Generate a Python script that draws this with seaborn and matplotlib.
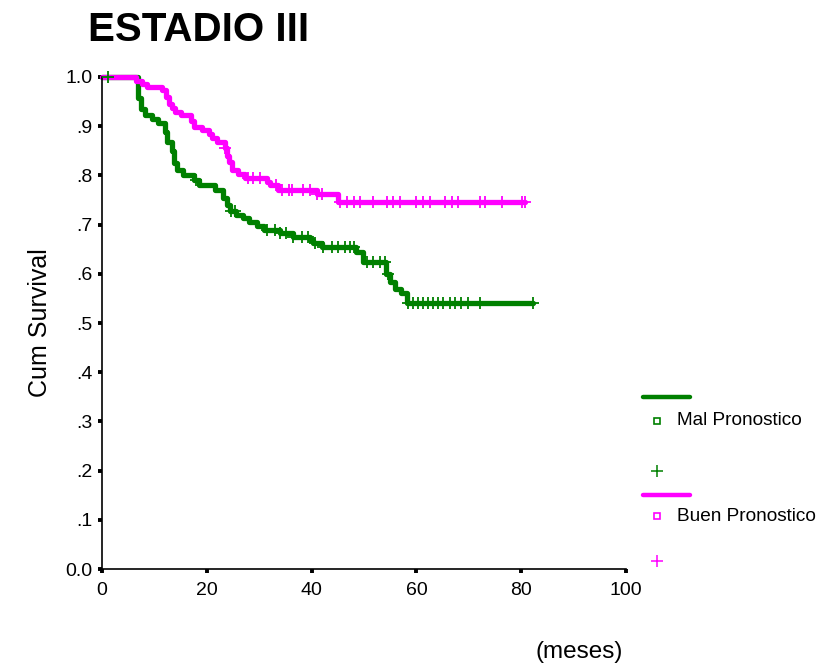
import numpy as np
import pandas as pd
import matplotlib
matplotlib.use("Agg")
import matplotlib.pyplot as plt
from matplotlib.lines import Line2D
import seaborn as sns

# Kaplan-Meier step data (time in months, cumulative survival)
mal_t = [0, 6.9, 7.5, 8.2, 9.5, 10.7, 12.0, 12.5, 13.3, 13.8, 14.3, 15.5, 17.5,
         18.5, 21.5, 23.0, 23.8, 24.5, 25.5, 27.0, 28.0, 29.5, 31.0, 34.0, 36.5,
         39.7, 40.3, 42.0, 48.5, 49.8, 54.2, 55.0, 56.0, 57.0, 58.2, 82.3]
mal_s = [1.0, 0.957, 0.935, 0.923, 0.915, 0.907, 0.888, 0.868, 0.85, 0.825, 0.81,
         0.80, 0.79, 0.78, 0.77, 0.755, 0.74, 0.728, 0.72, 0.713, 0.705, 0.697,
         0.69, 0.683, 0.675, 0.668, 0.663, 0.655, 0.645, 0.625, 0.60, 0.583,
         0.57, 0.56, 0.541, 0.541]

buen_t = [0, 6.5, 7.6, 8.5, 11.5, 12.2, 12.8, 13.4, 14.0, 15.0, 17.0, 17.6, 19.0,
          20.5, 21.0, 22.0, 23.5, 23.8, 24.2, 24.8, 26.0, 27.3, 31.5, 32.0, 33.5,
          41.0, 45.0, 80.8]
buen_s = [1.0, 0.992, 0.985, 0.98, 0.973, 0.96, 0.945, 0.937, 0.929, 0.923, 0.91,
          0.898, 0.892, 0.884, 0.876, 0.868, 0.855, 0.84, 0.827, 0.811, 0.803,
          0.795, 0.787, 0.78, 0.77, 0.762, 0.746, 0.746]

# censored observations
mal_cens = [1.2, 18.0, 24.7, 25.4, 31.4, 33.0, 34.0, 35.2, 36.5, 38.1, 39.4, 40.6,
            42.2, 43.8, 45.1, 46.4, 47.3, 48.0, 50.5, 51.8, 53.1, 54.1, 54.6, 58.4,
            59.4, 60.4, 61.3, 62.3, 63.2, 64.2, 65.1, 66.4, 67.4, 68.6, 69.9, 72.1,
            82.3]
buen_cens = [23.5, 27.9, 28.9, 30.2, 33.3, 34.3, 35.6, 36.2, 38.4, 39.7, 41.0, 41.9,
             45.4, 46.7, 48.0, 49.2, 51.8, 54.3, 55.6, 56.9, 60.0, 61.3, 62.6, 65.5,
             66.7, 68.0, 72.1, 73.1, 76.3, 80.1, 80.8]

groups = ["Mal Pronostico", "Buen Pronostico"]
colors = {"Mal Pronostico": "#008000", "Buen Pronostico": "#ff00ff"}
x_ticks = [0, 20, 40, 60, 80, 100]
y_ticks = [0.0, 0.1, 0.2, 0.3, 0.4, 0.5, 0.6, 0.7, 0.8, 0.9, 1.0]
y_labels = ["0.0", ".1", ".2", ".3", ".4", ".5", ".6", ".7", ".8", ".9", "1.0"]


def step_value(times, surv, t):
    i = np.searchsorted(times, t, side="right") - 1
    return np.asarray(surv)[i]


curves = pd.concat([
    pd.DataFrame({"t": mal_t, "s": mal_s, "grupo": groups[0]}),
    pd.DataFrame({"t": buen_t, "s": buen_s, "grupo": groups[1]}),
])
cens = pd.concat([
    pd.DataFrame({"t": mal_cens, "s": step_value(mal_t, mal_s, mal_cens), "grupo": groups[0]}),
    pd.DataFrame({"t": buen_cens, "s": step_value(buen_t, buen_s, buen_cens), "grupo": groups[1]}),
])

sns.set_style("white")
plt.rcParams["font.family"] = ["Liberation Sans", "DejaVu Sans"]
plt.rcParams["text.color"] = "black"
plt.rcParams["axes.labelcolor"] = "black"
plt.rcParams["xtick.color"] = "black"
plt.rcParams["ytick.color"] = "black"

fig = plt.figure(figsize=(8.34, 6.66), dpi=100)
ax = fig.add_axes([0.1223, 0.1456, 0.6283, 0.7388])

sns.lineplot(data=curves, x="t", y="s", hue="grupo", palette=colors,
             drawstyle="steps-post", linewidth=3.8, estimator=None, sort=False,
             legend=False, ax=ax, clip_on=False)
for g in groups:
    sub = cens[cens["grupo"] == g]
    ax.plot(sub["t"], sub["s"], linestyle="none", marker="+", markersize=9,
            markeredgewidth=1.3, color=colors[g], clip_on=False, zorder=3)

ax.set_xlim(0, 100)
ax.set_ylim(0, 1.0)
ax.set_xticks(x_ticks)
ax.set_yticks(y_ticks)
ax.set_yticklabels(y_labels)
ax.tick_params(axis="both", which="both", direction="out", length=3, width=2.8,
               color="black", labelsize=14, left=True, bottom=True)
ax.tick_params(axis="x", pad=6)
ax.tick_params(axis="y", pad=4)
sns.despine(ax=ax)
for sp in ["left", "bottom"]:
    ax.spines[sp].set_color("black")
    ax.spines[sp].set_linewidth(1.2)

ax.set_ylabel("Cum Survival", fontsize=18)
ax.yaxis.set_label_coords(-0.095, 0.5)
ax.set_xlabel("(meses)", fontsize=17.5)
ax.xaxis.set_label_coords(0.91, -0.146)
ax.set_title("ESTADIO III", fontsize=29, fontweight="bold", x=0.185, y=1.073, pad=0)

# legend drawn outside the axes, like the original output
legend_rows = [(groups[0], 0.404, 0.368, 0.293), (groups[1], 0.257, 0.225, 0.158)]
for g, y_line, y_box, y_plus in legend_rows:
    c = colors[g]
    fig.add_artist(Line2D([0.771, 0.827], [y_line, y_line], color=c, linewidth=3.2,
                          transform=fig.transFigure))
    fig.add_artist(Line2D([0.788], [y_box], marker="s", markersize=5, markerfacecolor="none",
                          markeredgecolor=c, markeredgewidth=1.2, linestyle="none",
                          transform=fig.transFigure))
    fig.text(0.812, y_box, g, fontsize=13.7, va="center", ha="left")
    fig.add_artist(Line2D([0.788], [y_plus], marker="+", markersize=9, color=c,
                          markeredgewidth=1.1, linestyle="none", transform=fig.transFigure))

fig.savefig("out.png", dpi=100)
